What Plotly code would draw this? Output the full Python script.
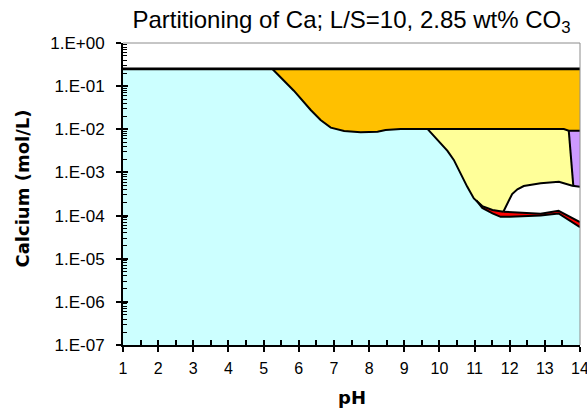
import numpy as np
import plotly.graph_objects as go

# ---------------- data (mol/L vs pH) ----------------
Y_MIN, Y_MAX = 1e-7, 1.0
ph_ticks = list(range(1, 15))
ph_minor = [x + 0.5 for x in range(1, 14)]
ca_tick_vals = [1e-7, 1e-6, 1e-5, 1e-4, 1e-3, 1e-2, 1e-1, 1e0]
ca_tick_text = ["1.E-07", "1.E-06", "1.E-05", "1.E-04", "1.E-03", "1.E-02", "1.E-01", "1.E+00"]
ca_minor = [k * 10.0 ** e for e in range(-7, 0) for k in range(2, 10)]

# total Ca
ph_total = [1.0, 14.0]
ca_total = [0.25, 0.25]

# lower boundary of the orange phase
ph_orange_lo = [5.25, 5.86, 6.34, 6.62, 6.91, 7.29, 7.76, 8.24, 8.47, 8.90, 9.66, 11.5, 13.54, 13.68, 14.0]
ca_orange_lo = [0.25, 0.0785, 0.028, 0.0164, 0.0109, 0.0091, 0.0085, 0.0088, 0.0096, 0.0102, 0.0102,
                0.0102, 0.0101, 0.0093, 0.0093]

# lower boundary of the yellow phase
ph_yellow_lo = [9.66, 9.94, 10.23, 10.41, 10.60, 10.79, 10.98, 11.22, 11.51, 11.82]
ca_yellow_lo = [0.0102, 0.0056, 0.00316, 0.00195, 0.00095, 0.00047, 0.00025, 0.000166, 0.000135, 0.000123]

# lower boundary of the red phase
ph_red_lo = [11.05, 11.22, 11.51, 11.74, 12.00, 12.88, 13.39, 14.0]
ca_red_lo = [0.000224, 0.000151, 0.000112, 0.0000933, 0.0000933, 0.000100, 0.000112, 0.0000537]

# upper boundary of the red phase (= lower boundary of white)
ph_red_hi = [11.82, 12.88, 13.39, 14.0]
ca_red_hi = [0.000123, 0.000110, 0.000129, 0.0000708]

# upper boundary of the white region
ph_white_hi = [11.82, 11.95, 12.07, 12.22, 12.40, 12.88, 13.40, 13.78, 14.0]
ca_white_hi = [0.000123, 0.000209, 0.000316, 0.000407, 0.000484, 0.000562, 0.00061, 0.00049, 0.000468]

# purple phase left edge (pH at top, pH at bottom)
ph_purple_edge = [13.68, 13.81]

# colours
C_CYAN = "#CCFFFF"
C_ORANGE = "#FFC000"
C_YELLOW = "#FFFF99"
C_RED = "#FF0000"
C_WHITE = "#FFFFFF"
C_PURPLE = "#CC99FF"


def logi(p, xs, ys):
    return float(10 ** np.interp(p, xs, np.log10(ys)))


def seg(xs, ys, a, b):
    inner = [(x, y) for x, y in zip(xs, ys) if a < x < b]
    px = [a] + [q[0] for q in inner] + [b]
    py = [logi(a, xs, ys)] + [q[1] for q in inner] + [logi(b, xs, ys)]
    return px, py


def poly(top, bottom):
    tx, ty = top
    bx, by = bottom
    return list(tx) + list(bx[::-1]) + [tx[0]], list(ty) + list(by[::-1]) + [ty[0]]


fig = go.Figure()


def add_fill(xy, color):
    fig.add_trace(go.Scatter(x=xy[0], y=xy[1], mode="lines", fill="toself", fillcolor=color,
                             line=dict(width=0, color=color), hoverinfo="skip", showlegend=False))


def add_line(xy, width=2.0):
    fig.add_trace(go.Scatter(x=xy[0], y=xy[1], mode="lines", line=dict(color="black", width=width),
                             hoverinfo="skip", showlegend=False))


x_lo, x_hi = ph_total[0], ph_total[-1]

# cyan: everything below total
add_fill(poly(seg(ph_total, ca_total, x_lo, x_hi),
              ([x_lo, x_hi], [Y_MIN, Y_MIN])), C_CYAN)
# orange
add_fill(poly(seg(ph_total, ca_total, ph_orange_lo[0], x_hi),
              seg(ph_orange_lo, ca_orange_lo, ph_orange_lo[0], x_hi)), C_ORANGE)
# yellow
yb1 = seg(ph_yellow_lo, ca_yellow_lo, ph_yellow_lo[0], ph_yellow_lo[-1])
yb2 = seg(ph_red_hi, ca_red_hi, ph_red_hi[0], x_hi)
add_fill(poly(seg(ph_orange_lo, ca_orange_lo, ph_yellow_lo[0], x_hi),
              (yb1[0] + yb2[0][1:], yb1[1] + yb2[1][1:])), C_YELLOW)
# red
rt1 = seg(ph_yellow_lo, ca_yellow_lo, ph_red_lo[0], ph_yellow_lo[-1])
add_fill(poly((rt1[0] + yb2[0][1:], rt1[1] + yb2[1][1:]),
              seg(ph_red_lo, ca_red_lo, ph_red_lo[0], x_hi)), C_RED)
# white
add_fill(poly(seg(ph_white_hi, ca_white_hi, ph_white_hi[0], x_hi), yb2), C_WHITE)
# purple
add_fill(poly(seg(ph_orange_lo, ca_orange_lo, ph_purple_edge[0], x_hi),
              seg(ph_white_hi, ca_white_hi, ph_purple_edge[1], x_hi)), C_PURPLE)

# boundary lines
add_line(seg(ph_orange_lo, ca_orange_lo, ph_orange_lo[0], x_hi))
add_line(yb1)
add_line(seg(ph_red_lo, ca_red_lo, ph_red_lo[0], x_hi))
add_line(yb2)
add_line(seg(ph_white_hi, ca_white_hi, ph_white_hi[0], x_hi))
add_line(([ph_purple_edge[0], ph_purple_edge[1]],
          [logi(ph_purple_edge[0], ph_orange_lo, ca_orange_lo),
           logi(ph_purple_edge[1], ph_white_hi, ca_white_hi)]))
add_line(seg(ph_total, ca_total, x_lo, x_hi), width=2.8)

# empty trace on overlay axes (for crossing major ticks)
fig.add_trace(go.Scatter(x=[None], y=[None], xaxis="x2", yaxis="y2", showlegend=False, hoverinfo="skip"))

FONT = "Liberation Sans, Arial, sans-serif"
BOLD = "DejaVu Sans, Verdana, sans-serif"

fig.update_layout(
    width=587, height=408,
    margin=dict(l=123, r=7, t=43, b=63, autoexpand=False),
    paper_bgcolor="white", plot_bgcolor="white",
    font=dict(family=FONT, size=16, color="black"),
    showlegend=False,
    title=dict(text="Partitioning of Ca; L/S=10, 2.85 wt% CO<sub>3</sub>",
               x=0.5, xref="paper", xanchor="center",
               y=1 - 19.5 / 408, yref="container", yanchor="middle",
               font=dict(family=FONT, size=24, color="black")),
    xaxis=dict(range=[x_lo, x_hi], tickmode="array", tickvals=ph_ticks, automargin=False,
               ticks="outside", ticklen=5, tickwidth=1.5, tickcolor="black",
               showline=True, linecolor="black", linewidth=2, showgrid=False, zeroline=False,
               ticklabelstandoff=3, tickfont=dict(size=16), ticklabeloverflow="allow",
               minor=dict(tickmode="array", tickvals=ph_minor, ticks="inside", ticklen=5,
                          tickwidth=1.5, tickcolor="black", showgrid=False)),
    yaxis=dict(type="log", range=[np.log10(Y_MIN), np.log10(Y_MAX)], tickmode="array",
               tickvals=ca_tick_vals, ticktext=ca_tick_text, automargin=False,
               ticks="outside", ticklen=5, tickwidth=1.5, tickcolor="black",
               showline=True, linecolor="black", linewidth=2, showgrid=False, zeroline=False,
               ticklabelstandoff=8, tickfont=dict(size=17), ticklabeloverflow="allow",
               minor=dict(tickmode="array", tickvals=ca_minor, ticks="inside", ticklen=4,
                          tickwidth=1, tickcolor="black", showgrid=False)),
    xaxis2=dict(overlaying="x", anchor="y2", range=[x_lo, x_hi], tickmode="array", tickvals=ph_ticks,
                ticks="inside", ticklen=5, tickwidth=1.5, tickcolor="black", automargin=False,
                showticklabels=False, showline=False, showgrid=False, zeroline=False),
    yaxis2=dict(overlaying="y", anchor="x2", type="log", range=[np.log10(Y_MIN), np.log10(Y_MAX)],
                tickmode="array", tickvals=ca_tick_vals, automargin=False,
                ticks="inside", ticklen=5, tickwidth=1.5, tickcolor="black",
                showticklabels=False, showline=False, showgrid=False, zeroline=False),
    shapes=[
        dict(type="line", xref="paper", yref="paper", x0=0, x1=1, y0=1, y1=1,
             line=dict(color="#8C8C8C", width=1), layer="above"),
        dict(type="line", xref="paper", yref="paper", x0=1, x1=1, y0=0, y1=1,
             line=dict(color="#8C8C8C", width=1), layer="above"),
    ],
    annotations=[
        dict(text="<b>pH</b>", xref="paper", yref="paper", x=0.5, y=-(397 - 345) / 302,
             xanchor="center", yanchor="middle", showarrow=False,
             font=dict(family=BOLD, size=18, color="black")),
        dict(text="<b>Calcium (mol/L)</b>", xref="paper", yref="paper",
             x=(22 - 123) / 457, y=(345 - 188.5) / 302, textangle=-90,
             xanchor="center", yanchor="middle", showarrow=False,
             font=dict(family=BOLD, size=18, color="black")),
    ],
)

fig.write_html("out.html", config={"displayModeBar": False},
               post_script="document.body.style.margin='0px';document.body.style.overflow='hidden';")
